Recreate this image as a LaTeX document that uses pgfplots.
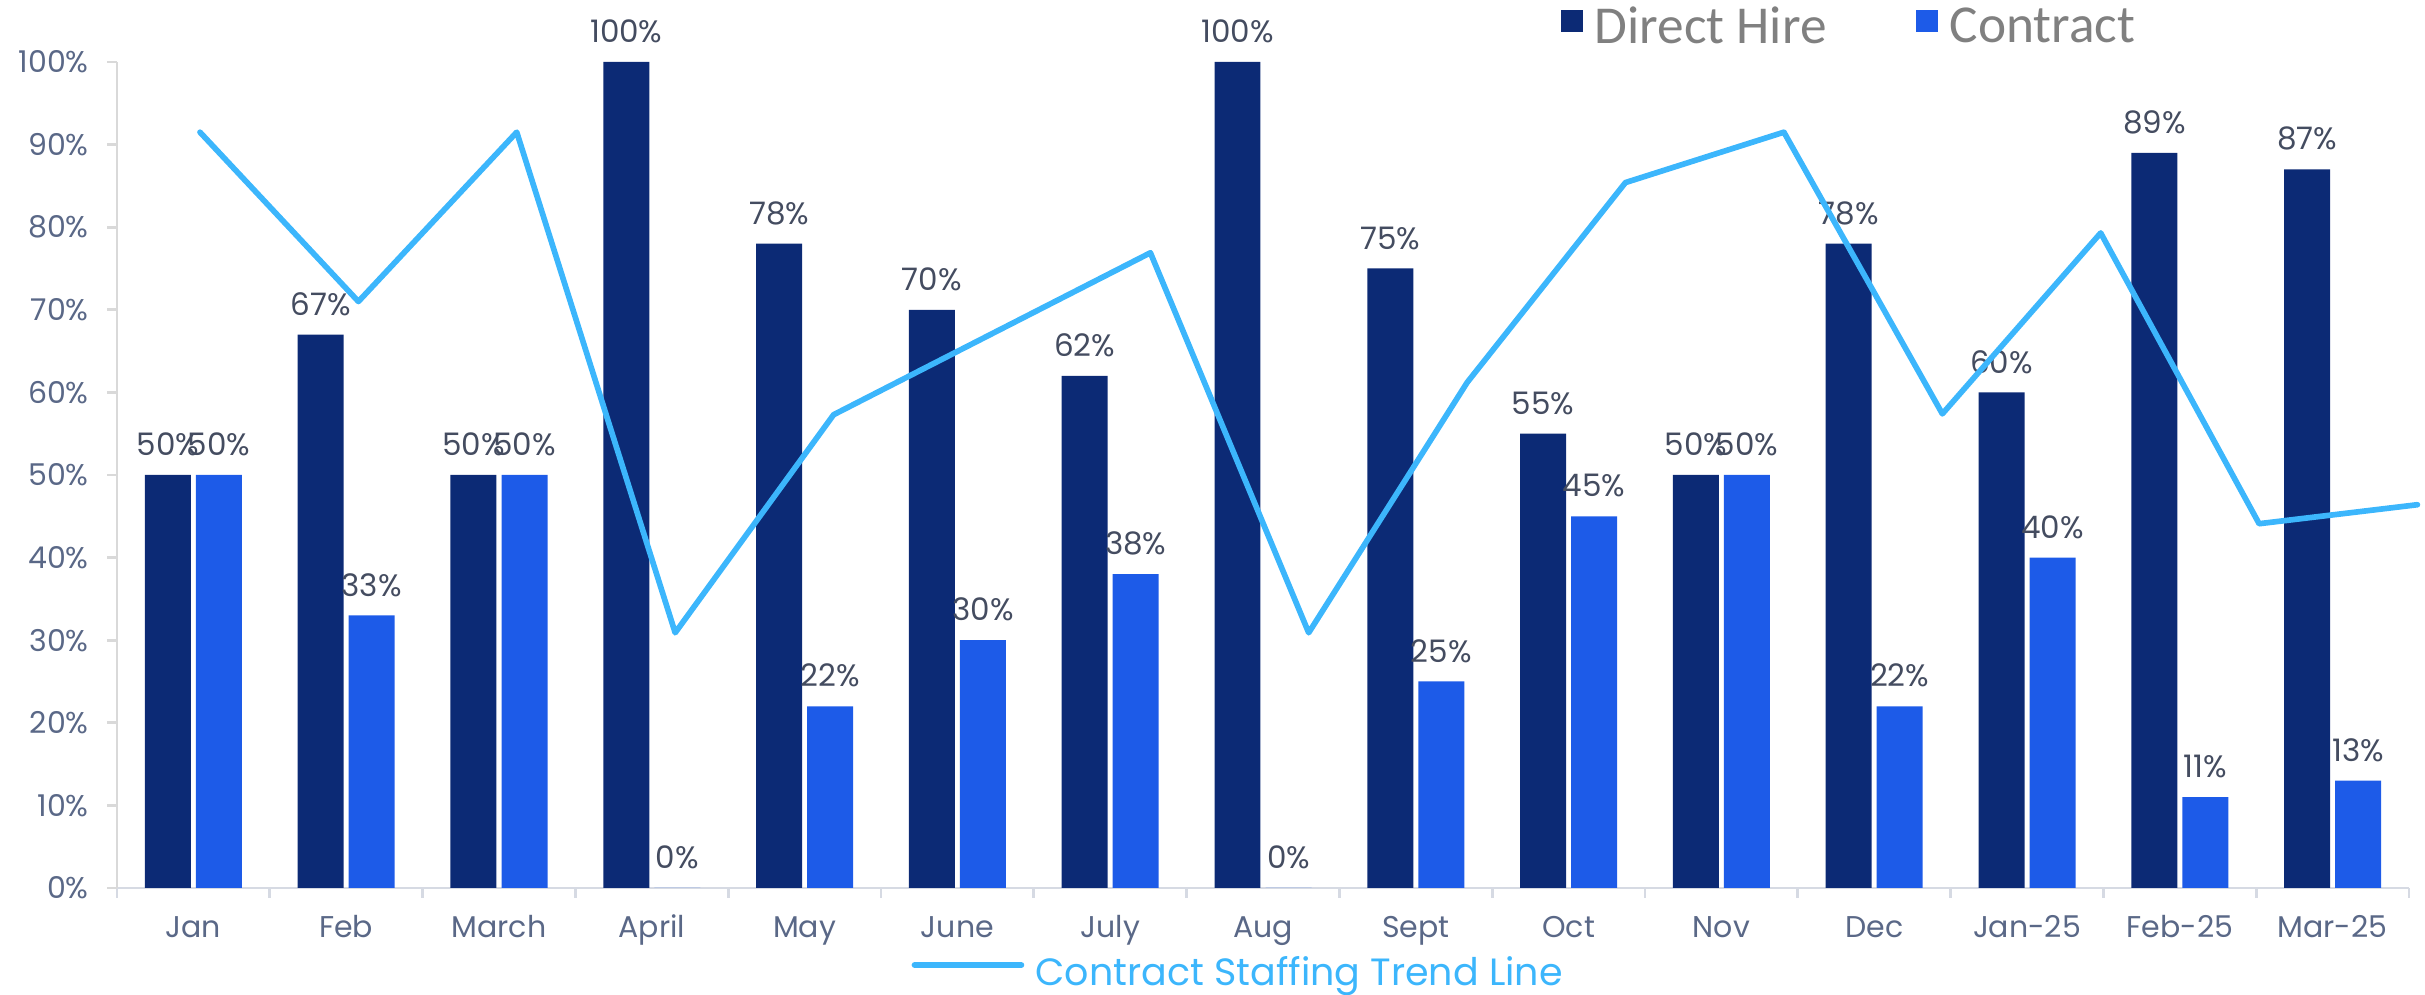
\documentclass[border=0pt]{standalone}
\usepackage{pgfplots}
\pgfplotsset{compat=1.18}
\usepackage{pgfplotstable}
\usepackage{fontspec}
\setmainfont{Poppins}
\newfontfamily\legfont{Carlito}
\definecolor{navy}{RGB}{12,42,117}
\definecolor{cblue}{RGB}{29,91,232}
\definecolor{trend}{RGB}{60,182,252}
\definecolor{ticktext}{RGB}{90,104,135}
\definecolor{labeltext}{RGB}{68,76,96}
\definecolor{axisgray}{RGB}{214,218,227}
\definecolor{ygray}{RGB}{217,217,217}
\definecolor{leggray}{RGB}{128,128,128}

\pgfplotstableread{
x dh ct
0 50 50
1 67 33
2 50 50
3 100 0
4 78 22
5 70 30
6 62 38
7 100 0
8 75 25
9 55 45
10 50 50
11 78 22
12 60 40
13 89 11
14 87 13
}\bars

\pgfplotstableread{
x y
0.043 91.5
1.080 71.0
2.116 91.5
3.153 30.9
4.190 57.3
5.226 67.1
6.263 76.9
7.299 30.9
8.336 61.2
9.372 85.4
10.409 91.5
11.446 57.4
12.482 79.3
13.519 44.1
14.555 46.4
}\trend

\begin{document}
\begin{tikzpicture}
\begin{axis}[
  at={(0,0)}, anchor=south west,
  scale only axis, width=687.6pt, height=247.8pt,
  xmin=-0.5, xmax=14.5, ymin=0, ymax=100,
  enlargelimits=false,
  /pgf/number format/assume math mode=true,
  ybar, bar width=0.301,
  axis lines*=left,
  x axis line style={draw=axisgray, line width=0.8pt},
  y axis line style={draw=ygray, line width=0.8pt},
  tick align=outside,
  xtick={-0.5,0.5,...,14.5},
  xticklabels={},
  extra x ticks={0,1,...,14},
  extra x tick labels={Jan,Feb,March,April,May,June,July,Aug,Sept,Oct,Nov,Dec,Jan-25,Feb-25,Mar-25},
  extra x tick style={major tick length=0pt},
  x tick style={draw=axisgray, line width=0.8pt},
  y tick style={draw=ygray, line width=0.8pt},
  major tick length=2.9pt,
  ytick={0,10,...,100},
  yticklabels={0\%,10\%,20\%,30\%,40\%,50\%,60\%,70\%,80\%,90\%,100\%},
  yticklabel style={font=\fontsize{9}{10}\selectfont, text=ticktext, anchor=east, inner sep=0pt, xshift=-5.4pt},
  xticklabel style={font=\fontsize{9}{10}\selectfont, text=ticktext, anchor=north, inner sep=0pt, text height=6.3pt, yshift=-8.3pt},
  nodes near coords={\pgfmathprintnumber{\pgfplotspointmeta}\%},
  nodes near coords style={font=\fontsize{9.3}{10}\selectfont, text=labeltext, inner sep=0pt, anchor=south, yshift=5.5pt},
  legend columns=2,
  legend style={draw=none, fill=none, at={(0.6296,1.0416)}, anchor=west,
    font=\legfont\fontsize{16}{19}\selectfont, text=leggray, inner sep=0pt,
    /tikz/every odd column/.append style={column sep=1.6pt},
    /tikz/every even column/.append style={column sep=24.8pt}},
]
\addplot[fill=navy, draw=none, bar shift=-0.167,
  legend image code/.code={\fill[navy] (0pt,-1.2pt) rectangle (6.6pt,5.4pt);}]
  table[x=x,y=dh]{\bars};
\addlegendentry{Direct Hire}
\addplot[fill=cblue, draw=none, bar shift=0.167,
  legend image code/.code={\fill[cblue] (0pt,-1.2pt) rectangle (6.6pt,5.4pt);}]
  table[x=x,y=ct]{\bars};
\addlegendentry{Contract}
\end{axis}
\begin{axis}[
  at={(0,0)}, anchor=south west,
  scale only axis, width=687.6pt, height=247.8pt,
  xmin=-0.5, xmax=14.5, ymin=0, ymax=100,
  enlargelimits=false, hide axis, clip=false,
  legend style={draw=none, fill=none, at={(0.3464,-0.1030)}, anchor=west,
    font=\fontsize{11.4}{13}\selectfont, text=trend, inner sep=0pt,
    /tikz/every odd column/.append style={column sep=1.4pt}},
]
\addplot[trend, line width=1.7pt, line join=round, line cap=round,
  legend image code/.code={\draw[trend, line width=1.8pt] (0pt,2.4pt) -- (32pt,2.4pt);}]
  table[x=x,y=y]{\trend};
\addlegendentry{Contract Staffing Trend Line}
\end{axis}
\pgfresetboundingbox
\path[use as bounding box] (-35.1pt,-32.1pt) rectangle (692.4pt,266.4pt);
\end{tikzpicture}
\end{document}
